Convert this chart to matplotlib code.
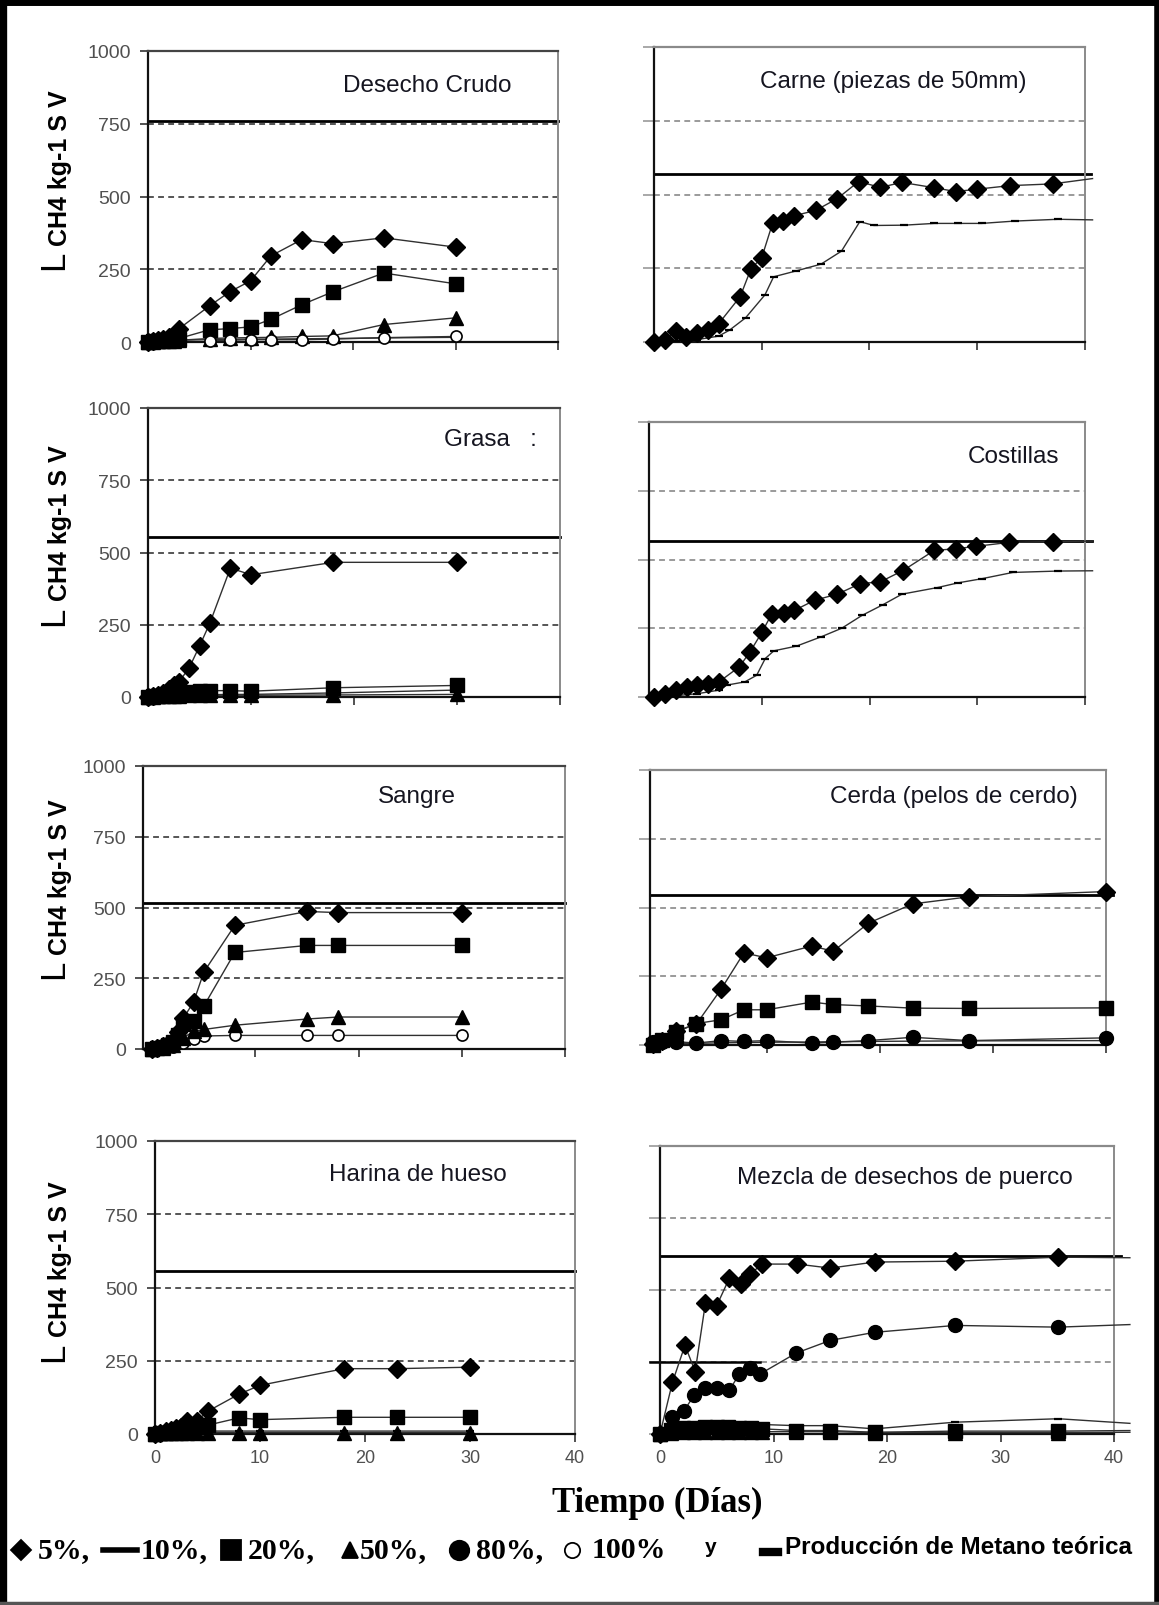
import matplotlib
matplotlib.use("Agg")
import matplotlib.pyplot as plt
from matplotlib.lines import Line2D
from matplotlib.transforms import blended_transform_factory

W, H = 1159, 1606

# ---------------- data: days vs L CH4 / kg SV ----------------
titles = ["Desecho Crudo", "Carne (piezas de 50mm)", "Grasa   :", "Costillas",
          "Sangre", "Cerda (pelos de cerdo)", "Harina de hueso",
          "Mezcla de desechos de puerco"]
theoretical = [760, 568, 552, 568, 515, 545, 558, 617]

# Desecho crudo
dc_x = [0, 0.5, 1, 1.5, 2, 2.5, 3, 6, 8, 10, 12, 15, 18, 23, 30]
dc_5 = [0, 4, 8, 12, 17, 25, 45, 124, 173, 210, 296, 352, 338, 358, 326]
dc_20 = [0, 2, 4, 6, 8, 10, 12, 42, 46, 52, 78, 128, 172, 237, 200]
dc_50 = [0, 1, 2, 3, 4, 5, 6, 12, 14, 15, 16, 19, 21, 60, 83]
dc_100x = [6, 8, 10, 12, 15, 18, 23, 30]
dc_100 = [5, 6, 8, 8, 8, 10, 15, 19]
dc_10x = [0, 1, 2, 3, 6, 8, 10, 12, 15, 18, 23, 30]
dc_10 = [0, 3, 5, 6, 8, 9, 10, 10, 11, 12, 14, 16]

# Carne
ca_x5 = [0, 1, 2, 3, 4, 5, 6, 8, 9, 10, 11, 12, 13, 15, 17, 19, 21, 23, 26, 28, 30, 33, 37, 40.7]
ca_5 = [0, 8, 36, 17, 31, 42, 62, 154, 248, 286, 402, 411, 428, 446, 486, 544, 524, 541, 523, 510, 518, 530, 536, 554]
ca_x10 = [0, 2, 4, 6, 7, 8.5, 10.3, 11.1, 13.2, 15.5, 17.4, 19.1, 20.4, 23.2, 26, 28.2, 30.4, 33.5, 37.5, 40.7]
ca_10 = [0, 3, 8, 20, 40, 82, 160, 221, 241, 264, 308, 408, 395, 396, 402, 402, 402, 410, 416, 414]

# Grasa
gr_x = [0, 0.5, 1, 1.5, 2, 2.5, 3, 4, 5, 6, 8, 10, 18, 30]
gr_5 = [0, 4, 8, 14, 28, 40, 52, 101, 176, 255, 446, 423, 466, 466]
gr_20 = [0, 3, 5, 8, 10, 12, 14, 18, 20, 22, 22, 20, 32, 40]
gr_50 = [0, 1, 2, 3, 4, 5, 5, 6, 6, 6, 6, 6, 7, 9]
gr_10x = [0, 1, 2, 3, 4, 5, 6, 8, 10, 18, 30]
gr_10 = [0, 3, 5, 6, 7, 8, 8, 9, 9, 14, 24]

# Costillas
co_x5 = [0, 1, 2, 3, 4, 5, 6, 7.9, 8.9, 10, 10.9, 12, 13, 14.9, 17, 19.1, 21, 23.1, 26, 28, 29.9, 32.9, 37, 40.7]
co_5 = [0, 10, 24, 37, 43, 46, 55, 110, 165, 236, 302, 307, 315, 352, 374, 412, 419, 460, 533, 539, 548, 562, 565, 567]
co_x10 = [0, 2, 4, 6, 6.7, 8.4, 9.5, 10.3, 11.1, 13.2, 15.5, 17.4, 19.3, 21.2, 23, 26.3, 28.2, 30.4, 33.3, 37.5, 40.7]
co_10 = [0, 5, 12, 25, 43, 55, 79, 140, 168, 185, 219, 250, 297, 335, 374, 398, 415, 430, 453, 458, 459]

# Sangre
sa_x = [0, 0.5, 1, 1.5, 2, 2.5, 3, 4, 5, 8, 15, 18, 30]
sa_5 = [0, 5, 10, 18, 30, 60, 108, 166, 272, 437, 486, 482, 482]
sa_20 = [0, 4, 8, 15, 25, 50, 89, 100, 152, 341, 366, 366, 366]
sa_x2 = [0, 1, 2, 3, 4, 5, 8, 15, 18, 30]
sa_50 = [0, 5, 15, 40, 62, 69, 84, 106, 113, 113]
sa_100 = [0, 3, 8, 20, 35, 46, 48, 48, 48, 48]

# Cerda
ce_x = [0, 0.8, 2, 3.8, 6, 8, 10, 14, 15.9, 19, 22.9, 27.9, 40]
ce_5 = [4, 16, 51, 76, 204, 335, 317, 360, 341, 443, 513, 539, 558]
ce_20 = [0, 20, 46, 78, 92, 128, 128, 156, 147, 142, 134, 133, 135]
ce_80 = [10, 10, 12, 7, 16, 13, 16, 7, 10, 16, 28, 16, 26]
ce_10 = [0, 2, 5, 6, 8, 9, 10, 11, 12, 13, 14, 15, 16]

# Harina de hueso
ha_x = [0, 0.5, 1, 1.5, 2, 2.5, 3, 4, 5, 8, 10, 18, 23, 30]
ha_5 = [0, 5, 10, 15, 20, 25, 46, 45, 77, 136, 166, 223, 223, 228]
ha_20 = [0, 3, 5, 8, 10, 14, 18, 25, 30, 55, 49, 57, 57, 57]
ha_50 = [0, 2, 3, 4, 5, 5, 5, 5, 5, 5, 5, 5, 5, 5]
ha_10x = [0, 2, 4, 5, 8, 10, 18, 23, 30]
ha_10 = [0, 5, 8, 10, 10, 10, 10, 10, 10]

# Mezcla de desechos de puerco
me_x5 = [0, 1.1, 2.2, 3.1, 4, 5, 6.1, 7.1, 7.9, 9, 12.1, 15, 18.9, 26, 35.1, 41.4]
me_5 = [0, 180, 308, 217, 454, 446, 540, 522, 554, 590, 590, 576, 597, 600, 614, 612]
me_x80 = [0, 1.1, 2.1, 3, 4, 5, 6.1, 7, 7.9, 8.8, 12, 15, 18.9, 26, 35.1, 41.4]
me_80 = [0, 58, 80, 134, 161, 158, 152, 208, 228, 208, 281, 325, 353, 377, 371, 380]
me_x = [0, 1, 2, 3, 4, 5, 6, 7, 8, 9, 12, 15, 18.9, 26, 35.1, 41.4]
me_10 = [0, 30, 35, 38, 40, 40, 38, 36, 35, 33, 29, 29, 18, 41, 53, 37]
me_20 = [0, 15, 20, 22, 25, 25, 24, 22, 20, 18, 12, 12, 6, 10, 10, 12]
me_50 = [0, 5, 6, 7, 8, 8, 8, 8, 8, 8, 8, 8, 5, 5, 5, 6]
# short solid reference segment drawn over the 250 gridline in the original
me_seg_x = [-0.9, 8.8]
me_seg_y = [250, 250]

panels = [
    [("5%", dc_x, dc_5), ("20%", dc_x, dc_20), ("50%", dc_x, dc_50),
     ("10%", dc_10x, dc_10), ("100%", dc_100x, dc_100)],
    [("10%", ca_x10, ca_10), ("5%", ca_x5, ca_5)],
    [("10%", gr_10x, gr_10), ("50%", gr_x, gr_50), ("20%", gr_x, gr_20), ("5%", gr_x, gr_5)],
    [("10%", co_x10, co_10), ("5%", co_x5, co_5)],
    [("100%", sa_x2, sa_100), ("50%", sa_x2, sa_50), ("20%", sa_x, sa_20), ("5%", sa_x, sa_5)],
    [("10%", ce_x, ce_10), ("80%", ce_x, ce_80), ("20%", ce_x, ce_20), ("5%", ce_x, ce_5)],
    [("10%", ha_10x, ha_10), ("50%", ha_x, ha_50), ("20%", ha_x, ha_20), ("5%", ha_x, ha_5)],
    [("50%", me_x, me_50), ("20%", me_x, me_20), ("10%", me_x, me_10),
     ("80%", me_x80, me_80), ("5%", me_x5, me_5)],
]

y_ticks = [0, 250, 500, 750, 1000]
x_ticks = [0, 10, 20, 30, 40]

# ---------------- layout (pixel boxes: left, right, top, bottom) ----------------
boxes = [(148, 558, 52, 343), (654, 1085, 48, 343),
         (148, 560, 409, 698), (649, 1085, 423, 698),
         (143, 565, 767, 1050), (650, 1106, 771, 1046),
         (155, 575, 1142, 1435), (660, 1114, 1147, 1435)]
xlims = [(0, 40), (0, 40), (0, 40), (-0.5, 40), (-0.9, 40), (-0.3, 40), (0, 40), (0, 40)]
title_pos = [(0.68, 0.883), (0.555, 0.885), (0.83, 0.893), (0.835, 0.876),
             (0.649, 0.894), (0.667, 0.905), (0.626, 0.887), (0.54, 0.892)]

styles = {
    "5%": dict(marker="D", ms=9.5),
    "10%": dict(marker="_", ms=6, mew=1.6),
    "20%": dict(marker="s", ms=10.5),
    "50%": dict(marker="^", ms=9.5),
    "80%": dict(marker="o", ms=10),
    "100%": dict(marker="o", ms=8, mfc="white", mew=1.2),
}

SANS = ["Liberation Sans", "DejaVu Sans"]
SERIF = ["Liberation Serif", "DejaVu Serif"]

fig = plt.figure(figsize=(W / 100, H / 100), dpi=100)
fig.patch.set_facecolor("white")

axes = []
for i, ((l, r, t, b), series) in enumerate(zip(boxes, panels)):
    left_col = i % 2 == 0
    bottom_row = i >= 6
    ax = fig.add_axes([l / W, 1 - b / H, (r - l) / W, (b - t) / H])
    axes.append(ax)
    ax.set_xlim(*xlims[i])
    ax.set_ylim(0, 1000)
    ax.set_xticks(x_ticks)
    ax.set_yticks(y_ticks)

    grid_c = "#555555" if left_col else "#9a9a9a"
    for v in y_ticks[1:-1]:
        ax.axhline(v, color=grid_c, lw=1.4, ls=(0, (3, 2.2)), zorder=1)
    ax.axhline(theoretical[i], xmax=1.0 if left_col else 1.015, color="black",
               lw=2.0, zorder=2, clip_on=False)

    for name, xs, ys in series:
        st = dict(styles[name])
        mfc = st.pop("mfc", "black")
        ax.plot(xs, ys, color="#303030", lw=1.0, zorder=3, clip_on=False)
        mx = [x for x in xs if x <= 40.05]
        my = [y for x, y in zip(xs, ys) if x <= 40.05]
        ax.plot(mx, my, ls="none", color="black", mfc=mfc, mec="black",
                zorder=4, clip_on=False, **st)

    for side in ("left", "bottom"):
        ax.spines[side].set_color("#111111")
        ax.spines[side].set_linewidth(1.6)
    ax.spines["top"].set_color("#444444" if left_col else "#8a8a8a")
    ax.spines["top"].set_linewidth(1.6)
    ax.spines["right"].set_color("#8a8a8a")
    ax.spines["right"].set_linewidth(1.4)

    ax.tick_params(axis="x", direction="out", length=6, width=1.2, color="#333333",
                   labelbottom=bottom_row, labelsize=13, labelcolor="#505050", pad=5)
    if left_col:
        ax.tick_params(axis="y", direction="out", length=5.5, width=1.2, color="#333333",
                       labelsize=14, labelcolor="#505050", pad=7)
    else:
        ax.tick_params(axis="y", direction="out", length=8, width=1.2, color="#9a9a9a",
                       labelleft=False)
    for lab in ax.get_xticklabels() + ax.get_yticklabels():
        lab.set_family(SANS)

    ax.text(*title_pos[i], titles[i], transform=ax.transAxes, ha="center", va="center",
            fontsize=17.5, family=SANS, color="#151520")

    if left_col:
        # rotated y label: big "L" followed by the bold units
        tr = blended_transform_factory(fig.transFigure, ax.transAxes)
        ax.text(63 / W, 0.25, "L", transform=tr, rotation=90, rotation_mode="anchor",
                ha="left", va="baseline", fontsize=25, family=SANS, color="black",
                clip_on=False)
        ax.text(67 / W, 0.335, "CH4 kg-1 S V", transform=tr, rotation=90,
                rotation_mode="anchor", ha="left", va="baseline", fontsize=18,
                fontweight="bold", family=SANS, color="black", clip_on=False)

axes[7].plot(me_seg_x, me_seg_y, color="black", lw=1.8, zorder=2, clip_on=False)

# x axis title
fig.text(657 / W, 1 - 1503 / H, "Tiempo (Días)", ha="center", va="center",
         fontsize=25, fontweight="bold", family=SERIF)

# legend line at the bottom
yl = 1 - 1551 / H


def fx(px):
    return px / W


legend_marks = [(21, "D", 10, "black"), (231, "s", 15, "black"), (350, "^", 12, "black"),
                (459, "o", 14, "black"), (572, "o", 11, "white")]
for px, mk, ms, fc in legend_marks:
    fig.add_artist(Line2D([fx(px)], [yl], marker=mk, ms=ms, mfc=fc, mec="black",
                          mew=1.3, ls="none", transform=fig.transFigure))
fig.add_artist(Line2D([fx(103), fx(137)], [yl, yl], color="black", lw=4,
                      transform=fig.transFigure))
fig.add_artist(Line2D([fx(763), fx(778)], [yl - 0.001, yl - 0.001], color="black", lw=6,
                      transform=fig.transFigure))
legend_texts = [(38, "5%,"), (141, "10%,"), (248, "20%,"), (360, "50%,"),
                (476, "80%,"), (592, "100%")]
for px, txt in legend_texts:
    fig.text(fx(px), yl, txt, ha="left", va="center", fontsize=21.5,
             fontweight="bold", family=SERIF)
fig.text(fx(705), yl + 0.002, "y", ha="left", va="center", fontsize=15,
         fontweight="bold", family=SANS)
fig.text(fx(785), yl + 0.002, "Producción de Metano teórica", ha="left", va="center",
         fontsize=17.5, fontweight="bold", family=SANS)

# outer frame
for xs, ys, lw, c in [([0, 1], [1 - 2.5 / H] * 2, 5, "black"),
                      ([3 / W] * 2, [0, 1], 6, "black"),
                      ([1 - 2 / W] * 2, [0, 1], 4, "black"),
                      ([0, 1], [2 / H] * 2, 2.5, "#555555")]:
    fig.add_artist(Line2D(xs, ys, color=c, lw=lw, transform=fig.transFigure))

fig.savefig("out.png", dpi=100)
